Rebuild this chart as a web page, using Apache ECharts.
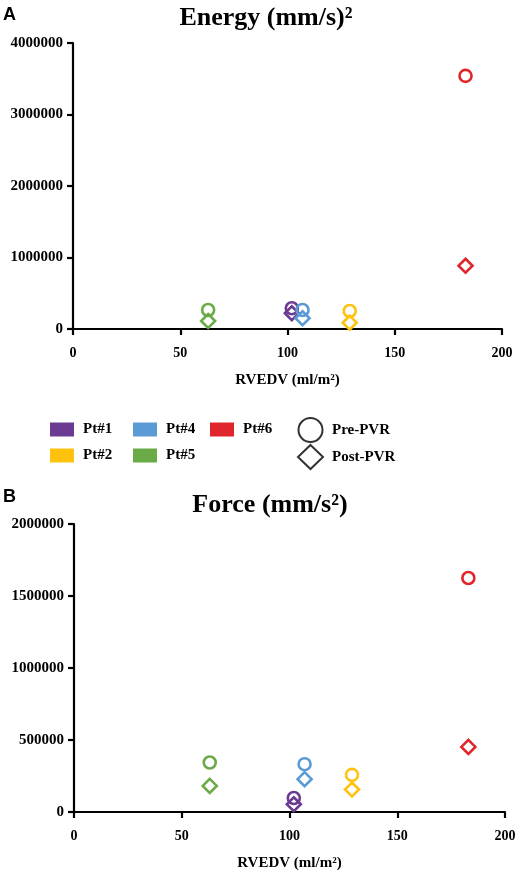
<!DOCTYPE html>
<html>
<head>
<meta charset="utf-8">
<script src="https://cdn.jsdelivr.net/npm/echarts@6/dist/echarts.min.js"></script>
<style>html,body{margin:0;padding:0;background:#fff;}#c{width:520px;height:872px;}</style>
</head>
<body>
<div id="c"></div>
<script>
// ---- data ----
var patients = ['Pt#1', 'Pt#2', 'Pt#4', 'Pt#5', 'Pt#6'];
var colors = ['#6b3a92', '#ffc20e', '#5b9bd5', '#6aab47', '#e0262a'];
var rvedv = [102, 129, 107, 63, 183];
var energyPre = [290000, 252000, 266000, 266000, 3540000];
var energyPost = [220000, 88000, 150000, 112000, 885000];
var forcePre = [97000, 258000, 332000, 344000, 1625000];
var forcePost = [54000, 156000, 228000, 181000, 452000];
var xTicks = [0, 50, 100, 150, 200];
var energyTicks = [0, 1000000, 2000000, 3000000, 4000000];
var forceTicks = [0, 500000, 1000000, 1500000, 2000000];

var serif = 'Liberation Serif';
var chart = echarts.init(document.getElementById('c'), null, {renderer: 'canvas'});

function xAxisCfg(gi) {
  return {
    gridIndex: gi, type: 'value', min: xTicks[0], max: xTicks[xTicks.length - 1],
    interval: xTicks[1] - xTicks[0],
    name: 'RVEDV (ml/m²)', nameLocation: 'middle', nameGap: 44,
    nameTextStyle: {fontFamily: serif, fontWeight: 'bold', fontSize: 15, color: '#000'},
    axisLine: {lineStyle: {color: '#000', width: 2.2}},
    axisTick: {length: 6, lineStyle: {color: '#000', width: 2.2}},
    axisLabel: {margin: 17, fontFamily: serif, fontWeight: 'bold', fontSize: 14, color: '#000',
      formatter: function (v) { return String(v); }},
    splitLine: {show: false}
  };
}
function yAxisCfg(gi, ticks) {
  return {
    gridIndex: gi, type: 'value', min: ticks[0], max: ticks[ticks.length - 1],
    interval: ticks[1] - ticks[0],
    axisLine: {show: true, lineStyle: {color: '#000', width: 2.2}},
    axisTick: {show: true, length: 6, lineStyle: {color: '#000', width: 2.2}},
    axisLabel: {margin: 10, fontFamily: serif, fontWeight: 'bold', fontSize: 15, color: '#000',
      formatter: function (v) { return String(v); }},
    splitLine: {show: false}
  };
}

var series = [];
function addSeries(gi, pre, post) {
  patients.forEach(function (p, i) {
    series.push({
      name: p, type: 'scatter', xAxisIndex: gi, yAxisIndex: gi,
      itemStyle: {color: 'rgba(0,0,0,0)', borderColor: colors[i], borderWidth: 2.6, opacity: 1},
      emphasis: {disabled: true},
      data: [
        {value: [rvedv[i], pre[i]], symbol: 'circle', symbolSize: 12},
        {value: [rvedv[i], post[i]], symbol: 'diamond', symbolSize: 14}
      ]
    });
  });
}
addSeries(0, energyPre, energyPost);
addSeries(1, forcePre, forcePost);
series.push({name: 'Pre-PVR', type: 'scatter', symbol: 'circle', data: [],
  itemStyle: {color: '#fff', borderColor: '#000', borderWidth: 2}});
series.push({name: 'Post-PVR', type: 'scatter', symbol: 'diamond', data: [],
  itemStyle: {color: '#fff', borderColor: '#000', borderWidth: 2}});

function ptItem(name) {
  var i = patients.indexOf(name);
  return {name: name, icon: 'rect', itemStyle: {color: colors[i], borderWidth: 0}};
}
var legText = {fontFamily: serif, fontWeight: 'bold', fontSize: 15, color: '#000', padding: [0, 0, 0, 4]};
function ptLegend(left, names) {
  return {orient: 'vertical', left: left, top: 422, padding: 0, itemWidth: 24, itemHeight: 14, itemGap: 11,
    selectedMode: false, textStyle: legText, data: names.map(ptItem)};
}

chart.setOption({
  animation: false,
  grid: [
    {left: 73, right: 18, top: 43, bottom: 543},
    {left: 74, right: 15, top: 524, bottom: 60}
  ],
  xAxis: [xAxisCfg(0), xAxisCfg(1)],
  yAxis: [yAxisCfg(0, energyTicks), yAxisCfg(1, forceTicks)],
  legend: [
    ptLegend(50, ['Pt#1', 'Pt#2']),
    ptLegend(133, ['Pt#4', 'Pt#5']),
    ptLegend(210, ['Pt#6']),
    {orient: 'vertical', left: 297, top: 417, padding: 0, itemWidth: 25, itemHeight: 24, itemGap: 1,
      selectedMode: false, textStyle: legText,
      data: [
        {name: 'Pre-PVR', icon: 'circle', itemStyle: {color: '#fff', borderColor: '#000', borderWidth: 2}},
        {name: 'Post-PVR', icon: 'diamond', itemStyle: {color: '#fff', borderColor: '#000', borderWidth: 2}}
      ]}
  ],
  graphic: [
    {type: 'text', x: 3, y: 15, style: {text: 'A', font: 'bold 18px "Liberation Sans"', fill: '#000', verticalAlign: 'middle'}},
    {type: 'text', x: 266, y: 18, style: {text: 'Energy (mm/s)²', font: 'bold 26px "Liberation Serif"', fill: '#000', align: 'center', verticalAlign: 'middle'}},
    {type: 'text', x: 3, y: 497, style: {text: 'B', font: 'bold 18px "Liberation Sans"', fill: '#000', verticalAlign: 'middle'}},
    {type: 'text', x: 270, y: 505, style: {text: 'Force (mm/s²)', font: 'bold 26px "Liberation Serif"', fill: '#000', align: 'center', verticalAlign: 'middle'}}
  ],
  series: series
});
</script>
</body>
</html>
